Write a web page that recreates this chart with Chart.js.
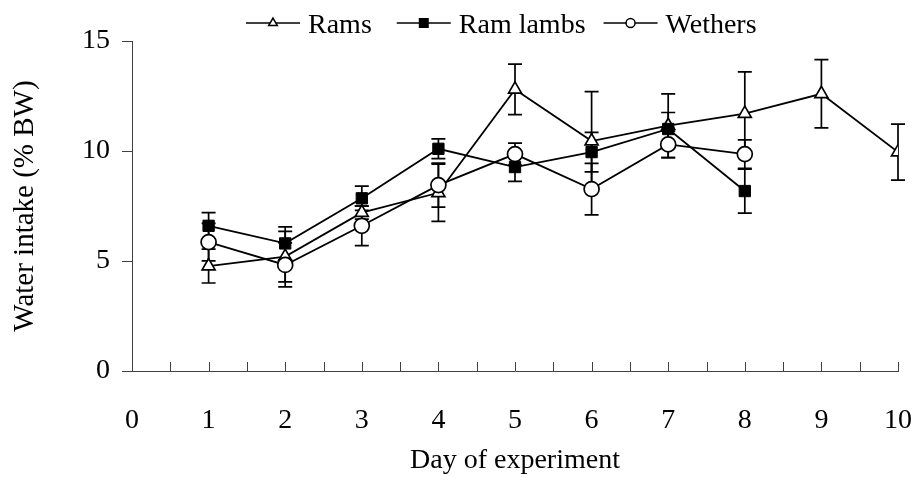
<!DOCTYPE html>
<html>
<head>
<meta charset="utf-8">
<script src="https://cdn.jsdelivr.net/npm/chart.js@4/dist/chart.umd.min.js"></script>
<style>
  html, body { margin: 0; padding: 0; background: #fff; }
  #wrap { width: 913px; height: 477px; }
</style>
</head>
<body>
<div id="wrap"><canvas id="c" width="913" height="477"></canvas></div>
<script>
// Daily water intake (% of body weight), means and standard errors
const days = [1, 2, 3, 4, 5, 6, 7, 8, 9, 10];
const seriesNames = ['Rams', 'Ram lambs', 'Wethers'];
const ramsMean = [4.77, 5.2, 7.2, 8.1, 12.8, 10.45, 11.15, 11.7, 12.6, 9.95];
const ramsSE = [0.77, 1.15, 0.3, 1.3, 1.15, 2.25, 1.45, 1.9, 1.55, 1.27];
const lambsMean = [6.6, 5.8, 7.85, 10.1, 9.27, 9.95, 11.0, 8.18];
const lambsSE = [0.6, 0.75, 0.55, 0.45, 0.65, 0.9, 0.75, 1.0];
const wethersMean = [5.86, 4.82, 6.6, 8.45, 9.86, 8.27, 10.3, 9.86];
const wethersSE = [0.85, 1.0, 0.9, 1.0, 0.5, 1.17, 0.6, 0.65];
const yTickValues = [0, 5, 10, 15];
const xTickValues = [0, 1, 2, 3, 4, 5, 6, 7, 8, 9, 10];

const FONT = { family: '"Liberation Serif", "Times New Roman", serif', size: 28 };
const AXIS = '#404040';

const toPoints = (means) => means.map((v, i) => ({ x: days[i], y: v }));

// vertical error bars with caps, drawn beneath the markers
const errorBars = {
  id: 'errorBars',
  beforeDatasetsDraw(chart) {
    const { ctx, scales: { x, y } } = chart;
    ctx.save();
    ctx.strokeStyle = '#000';
    ctx.lineWidth = 1.7;
    chart.data.datasets.forEach((ds) => {
      ds.data.forEach((p, i) => {
        const e = ds.errors[i];
        const px = x.getPixelForValue(p.x);
        const top = y.getPixelForValue(p.y + e);
        const bot = y.getPixelForValue(p.y - e);
        ctx.beginPath();
        ctx.moveTo(px, top); ctx.lineTo(px, bot);
        ctx.moveTo(px - 7, top); ctx.lineTo(px + 7, top);
        ctx.moveTo(px - 7, bot); ctx.lineTo(px + 7, bot);
        ctx.stroke();
      });
    });
    ctx.restore();
  }
};

// small inward tick marks every half day along the x axis
const innerTicks = {
  id: 'innerTicks',
  afterDraw(chart) {
    const { ctx, scales: { x }, chartArea } = chart;
    ctx.save();
    ctx.strokeStyle = AXIS;
    ctx.lineWidth = 1;
    for (let v = x.min; v <= x.max + 1e-9; v += 0.5) {
      const px = Math.round(x.getPixelForValue(v)) + 0.5;
      ctx.beginPath();
      ctx.moveTo(px, chartArea.bottom);
      ctx.lineTo(px, chartArea.bottom - 9);
      ctx.stroke();
    }
    ctx.restore();
  }
};

// key across the top: line sample with marker, then the series name
const keyGaps = [25, 18, 0];
const seriesKey = {
  id: 'seriesKey',
  afterDraw(chart) {
    const { ctx } = chart;
    const baseY = 33, midY = 23;
    let cx = 246;
    ctx.save();
    ctx.font = `${FONT.size}px ${FONT.family}`;
    ctx.textBaseline = 'alphabetic';
    ctx.textAlign = 'left';
    seriesNames.forEach((name, i) => {
      const ds = chart.data.datasets.find((d) => d.label === name);
      ctx.strokeStyle = '#000';
      ctx.lineWidth = 1.6;
      ctx.beginPath();
      ctx.moveTo(cx, midY); ctx.lineTo(cx + 54, midY);
      ctx.stroke();
      ctx.fillStyle = ds.pointBackgroundColor;
      ctx.strokeStyle = '#000';
      ctx.lineWidth = 1.5;
      Chart.helpers.drawPoint(ctx, { pointStyle: ds.pointStyle, radius: ds.keyRadius, rotation: 0, borderWidth: 1.5 }, cx + 27, midY);
      ctx.fillStyle = '#000';
      ctx.fillText(name, cx + 62, baseY);
      cx += 62 + ctx.measureText(name).width + keyGaps[i];
    });
    ctx.restore();
  }
};

new Chart(document.getElementById('c'), {
  type: 'line',
  data: {
    datasets: [
      {
        label: 'Rams', data: toPoints(ramsMean), errors: ramsSE, order: 2,
        borderColor: '#000', borderWidth: 1.8, pointStyle: 'triangle', pointRadius: 7.5, keyRadius: 5,
        pointBackgroundColor: '#fff', pointBorderColor: '#000', pointBorderWidth: 1.7
      },
      {
        label: 'Ram lambs', data: toPoints(lambsMean), errors: lambsSE, order: 0,
        borderColor: '#000', borderWidth: 1.8, pointStyle: 'rect', pointRadius: 8, keyRadius: 6,
        pointBackgroundColor: '#000', pointBorderColor: '#000', pointBorderWidth: 1
      },
      {
        label: 'Wethers', data: toPoints(wethersMean), errors: wethersSE, order: 1,
        borderColor: '#000', borderWidth: 1.8, pointStyle: 'circle', pointRadius: 7.5, keyRadius: 4.5,
        pointBackgroundColor: '#fff', pointBorderColor: '#000', pointBorderWidth: 1.7
      }
    ]
  },
  options: {
    responsive: false,
    animation: false,
    layout: { padding: { top: 41, right: 15, bottom: 0, left: 0 } },
    plugins: { legend: { display: false }, tooltip: { enabled: false } },
    scales: {
      x: {
        type: 'linear', min: 0, max: 10,
        afterBuildTicks: (s) => { s.ticks = xTickValues.map((v) => ({ value: v })); },
        ticks: { font: FONT, color: '#000', padding: 33, maxRotation: 0, autoSkip: false },
        grid: { display: false, drawTicks: false },
        border: { display: true, color: AXIS, width: 1 },
        title: { display: true, text: 'Day of experiment', font: FONT, color: '#000', padding: { top: 0, bottom: 0 } },
        afterFit: (s) => { s.height = 106; s.paddingLeft = 0; s.paddingRight = 0; }
      },
      y: {
        min: 0, max: 15,
        afterBuildTicks: (s) => { s.ticks = yTickValues.map((v) => ({ value: v })); },
        ticks: { font: FONT, color: '#000', padding: 12 },
        grid: { drawOnChartArea: false, drawTicks: true, tickLength: 10, color: AXIS },
        border: { display: true, color: AXIS, width: 1 },
        title: { display: true, text: 'Water intake (% BW)', font: { family: FONT.family, size: 29 }, color: '#000', padding: { top: 8, bottom: 0 } },
        afterFit: (s) => { s.width = 132; s.paddingTop = 0; s.paddingBottom = 0; }
      }
    }
  },
  plugins: [errorBars, innerTicks, seriesKey]
});
</script>
</body>
</html>
